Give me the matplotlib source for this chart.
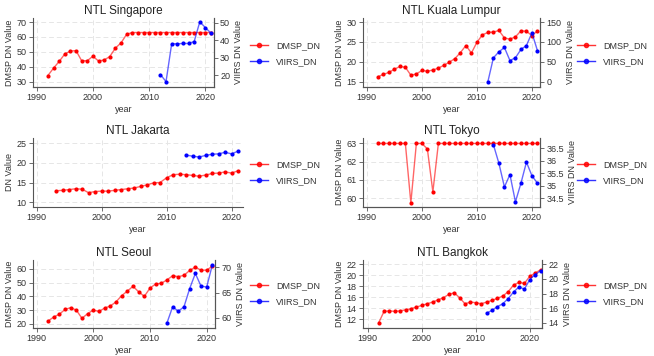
import numpy as np
import matplotlib
matplotlib.use("Agg")
import matplotlib.pyplot as plt
from matplotlib.lines import Line2D
from matplotlib.ticker import FormatStrFormatter

plt.rcParams['font.family'] = ['Liberation Sans', 'DejaVu Sans']

# --- data ---
sg_years = list(range(1992, 2022))
sg_dmsp = [34, 39, 43.5, 48.5, 50.5, 50.8, 44, 44, 47, 43.8, 44.5, 46.8, 52.5, 56, 61.8,
           63, 63, 63, 63, 63, 63, 63, 63, 63, 63, 63, 63, 63, 63, 63]
sg_viirs_years = list(range(2012, 2022))
sg_viirs = [20.5, 16.5, 38, 38, 38.2, 38.2, 39.3, 50.5, 47.2, 44]

kl_years = list(range(1992, 2022))
kl_dmsp = [16.2, 16.8, 17.3, 18.1, 18.8, 18.6, 16.6, 16.9, 17.8, 17.6, 17.9, 18.4, 19.1, 19.9, 20.8,
           22.3, 24.1, 22.2, 24.9, 26.8, 27.4, 27.5, 27.9, 26.0, 25.7, 26.3, 27.8, 27.7, 26.6, 27.8]
kl_viirs_years = list(range(2012, 2022))
kl_viirs = [0, 60, 75, 86, 53, 60, 81, 91, 123, 78]

jk_years = list(range(1993, 2022))
jk_dmsp = [12.9, 13.0, 13.2, 13.4, 13.3, 12.4, 12.7, 12.8, 12.8, 13.0, 13.2, 13.4, 13.6, 14.0, 14.4,
           14.9, 15.0, 16.2, 17.0, 17.1, 17.0, 16.8, 16.6, 16.9, 17.3, 17.4, 17.7, 17.4, 18.0]
jk_viirs_years = list(range(2013, 2022))
jk_viirs = [22.0, 21.7, 21.5, 21.9, 22.2, 22.3, 22.7, 22.3, 23.0]

tk_years = list(range(1992, 2022))
tk_dmsp = [63, 63, 63, 63, 63, 63, 59.75, 63, 63, 62.7, 60.35, 63, 63, 63, 63,
           63, 63, 63, 63, 63, 63, 63, 63, 63, 63, 63, 63, 63, 63, 63]
tk_viirs_years = list(range(2013, 2022))
tk_viirs = [36.65, 35.9, 34.95, 35.45, 34.35, 35.1, 35.95, 35.4, 35.1]

se_years = list(range(1992, 2022))
se_dmsp = [22, 25, 27, 30.5, 31.8, 30, 24, 27.5, 30, 29, 31.5, 33, 36, 40.5, 43.8,
           47.3, 43.3, 40, 46, 49, 49.5, 52, 55, 54.3, 55.3, 58.8, 61.3, 59, 59, 62]
se_viirs_years = list(range(2013, 2022))
se_viirs = [59, 62.2, 61.3, 62.2, 65.8, 68.8, 66.3, 66.1, 70.5]

bk_years = list(range(1992, 2023))
bk_dmsp = [11.3, 13.4, 13.5, 13.4, 13.5, 13.7, 13.9, 14.2, 14.5, 14.8, 15.1, 15.5, 15.9, 16.5, 16.8,
           15.9, 14.8, 15.1, 15.0, 14.8, 15.1, 15.4, 15.8, 16.2, 17.0, 18.2, 18.7, 18.5, 19.8, 20.4, 21.0]
bk_viirs_years = list(range(2012, 2023))
bk_viirs = [15.3, 15.7, 16.2, 16.6, 17.3, 18.2, 18.9, 18.6, 19.9, 20.6, 21.1]

RED = '#ff0000'
BLUE = '#0000ff'
SPINE = '#555555'
TXT = '#333333'
FS = 6.5


def style(ax, right=False):
    ax.spines['top'].set_visible(False)
    if not right:
        ax.spines['right'].set_visible(False)
    for s in ['left', 'bottom', 'right']:
        ax.spines[s].set_color(SPINE)
        ax.spines[s].set_linewidth(0.8)
    ax.tick_params(labelsize=FS, colors=SPINE, labelcolor=TXT, length=3, width=0.6, pad=1.5)
    ax.yaxis.set_major_formatter(FormatStrFormatter('%g'))


def series(ax, x, y, color):
    ax.plot(x, y, color=color, alpha=0.6, lw=1.0, zorder=2)
    ax.plot(x, y, 'o', color=color, ms=3, mec='none', zorder=3)


def panel(rect, title, x1, y1, x2, y2, ylim1, yt1, xlim, ylim2=None, yt2=None,
          ylabel='DMSP DN Value', leg_x=0.0, leg_y=0.0):
    ax = fig.add_axes(rect)
    style(ax, right=ylim2 is not None)
    ax.grid(True, color='#e6e6e6', ls=(0, (5, 3)), lw=0.7)
    ax.set_axisbelow(True)
    series(ax, x1, y1, RED)
    ax.set_xlim(*xlim)
    ax.set_xticks([1990, 2000, 2010, 2020])
    ax.xaxis.set_major_formatter(FormatStrFormatter('%d'))
    ax.set_ylim(*ylim1)
    ax.set_yticks(yt1)
    ax.set_title(title, fontsize=8.5, color='#222222', pad=3)
    ax.set_xlabel('year', fontsize=FS, color=TXT, labelpad=2)
    ax.set_ylabel(ylabel, fontsize=FS, color=TXT, labelpad=2)
    if ylim2 is not None:
        ax2 = ax.twinx()
        style(ax2, right=True)
        ax2.spines['left'].set_visible(False)
        series(ax2, x2, y2, BLUE)
        ax2.set_ylim(*ylim2)
        ax2.set_yticks(yt2)
        ax2.set_ylabel('VIIRS DN Value', fontsize=FS, color=TXT, labelpad=3)
    else:
        series(ax, x2, y2, BLUE)
    handles = [Line2D([], [], color=RED, marker='o', ms=3, lw=1.0, alpha=0.8),
               Line2D([], [], color=BLUE, marker='o', ms=3, lw=1.0, alpha=0.8)]
    fig.legend(handles, ['DMSP_DN', 'VIIRS_DN'], loc='center left',
               bbox_to_anchor=(leg_x, leg_y), frameon=False, fontsize=6.5,
               handlelength=2.0, handletextpad=0.9, labelspacing=0.75,
               borderpad=0, borderaxespad=0, labelcolor=TXT)


fig = plt.figure(figsize=(6.54, 3.56), dpi=100)

panel([0.050, 0.756, 0.277, 0.194], 'NTL Singapore', sg_years, sg_dmsp, sg_viirs_years, sg_viirs,
      (26.4, 72.9), [30, 40, 50, 60, 70], (1989.3, 2021.5), (13.5, 52.8), [20, 30, 40, 50],
      leg_x=0.382, leg_y=0.85)
panel([0.555, 0.756, 0.271, 0.194], 'NTL Kuala Lumpur', kl_years, kl_dmsp, kl_viirs_years, kl_viirs,
      (13.65, 31.1), [15, 20, 25, 30], (1989.3, 2021.5), (-13.5, 161), [0, 50, 100, 150],
      leg_x=0.882, leg_y=0.85)
panel([0.050, 0.419, 0.321, 0.194], 'NTL Jakarta', jk_years, jk_dmsp, jk_viirs_years, jk_viirs,
      (8.8, 26.4), [10, 15, 20, 25], (1989.4, 2021.7), ylabel='DN Value',
      leg_x=0.382, leg_y=0.515)
panel([0.555, 0.419, 0.271, 0.194], 'NTL Tokyo', tk_years, tk_dmsp, tk_viirs_years, tk_viirs,
      (59.53, 63.31), [60, 61, 62, 63], (1989.3, 2021.5), (34.15, 36.93),
      [34.5, 35, 35.5, 36, 36.5], leg_x=0.882, leg_y=0.515)
panel([0.050, 0.079, 0.279, 0.191], 'NTL Seoul', se_years, se_dmsp, se_viirs_years, se_viirs,
      (17.1, 66.5), [20, 30, 40, 50, 60], (1989.3, 2021.5), (58.0, 71.5), [60, 65, 70],
      leg_x=0.382, leg_y=0.175)
panel([0.555, 0.079, 0.274, 0.191], 'NTL Bangkok', bk_years, bk_dmsp, bk_viirs_years, bk_viirs,
      (10.4, 22.8), [12, 14, 16, 18, 20, 22], (1989.1, 2022.3), (13.3, 22.6),
      [14, 16, 18, 20, 22], leg_x=0.882, leg_y=0.175)

fig.savefig('out.png', dpi=100, facecolor='white')
